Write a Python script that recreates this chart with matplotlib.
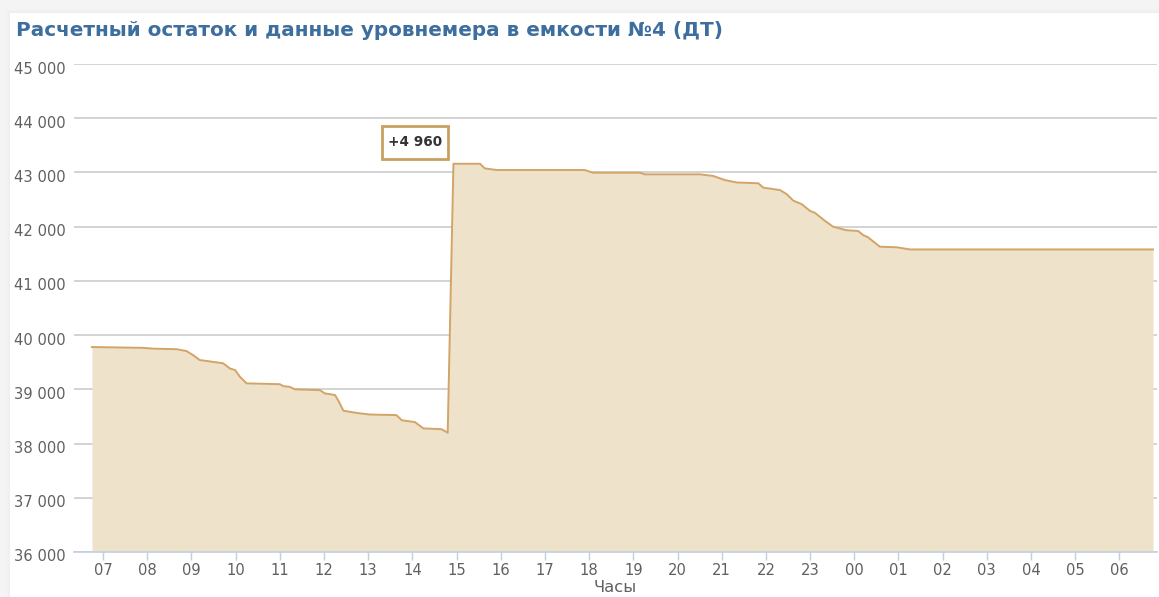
import matplotlib
matplotlib.use("Agg")
import matplotlib.pyplot as plt
from matplotlib.patches import Rectangle
from matplotlib.path import Path
from matplotlib.transforms import ScaledTranslation
from matplotlib.ticker import FuncFormatter

# Hours on the clock (values past 24 belong to the next day)
hours = [6.75, 7.91, 8.14, 8.67, 8.89, 9.04, 9.19, 9.46, 9.72, 9.87, 9.99,
         10.10, 10.25, 11.00, 11.08, 11.23, 11.34, 11.91, 12.02, 12.25, 12.32,
         12.44, 12.74, 13.04, 13.64, 13.76, 14.06, 14.25, 14.66, 14.80, 14.93,
         15.53, 15.64, 15.91, 17.90, 18.09, 19.15, 19.26, 20.51, 20.81, 21.07,
         21.34, 21.83, 21.94, 22.32, 22.47, 22.62, 22.81, 23.00, 23.11, 23.34,
         23.52, 23.82, 24.09, 24.20, 24.31, 24.58, 24.96, 25.26, 30.76]
# Tank volume, litres
volume = [39780, 39765, 39750, 39740, 39705, 39630, 39540, 39510, 39480, 39385,
          39355, 39230, 39110, 39095, 39060, 39045, 39000, 38985, 38925, 38895,
          38800, 38605, 38565, 38535, 38525, 38430, 38395, 38280, 38265, 38200,
          43160, 43160, 43075, 43045, 43045, 42995, 42995, 42965, 42965, 42935,
          42860, 42815, 42800, 42720, 42675, 42600, 42480, 42415, 42290, 42255,
          42105, 42000, 41935, 41920, 41845, 41805, 41630, 41620, 41580, 41580]

hour_ticks = list(range(7, 31))
hour_labels = [f"{h % 24:02d}" for h in hour_ticks]
y_ticks = list(range(36000, 45001, 1000))

# Delivery jump
jump_before = 38200
jump_after = 43160
jump_label = f"+{jump_after - jump_before:,}".replace(",", " ")

title = "Расчетный остаток и данные уровнемера в емкости №4 (ДТ)"
x_title = "Часы"

W, H = 1159, 597
fig = plt.figure(figsize=(W / 100, H / 100), dpi=100, facecolor="#f4f4f4")

# card background with a faint shadow
for i, a in enumerate([0.02, 0.03, 0.05, 0.08]):
    fig.patches.append(Rectangle(((10 - 4 + i) / W, 0), 1, 1 - (13 - 4 + i) / H,
                                 transform=fig.transFigure, facecolor="#d8d8d8",
                                 alpha=a, edgecolor="none", zorder=-10))
fig.patches.append(Rectangle((10 / W, 0), 1, 1 - 13 / H, transform=fig.transFigure,
                             facecolor="white", edgecolor="none", zorder=-9))

left, right, top, bottom = 74, 1157, 64, 552
ax = fig.add_axes([left / W, 1 - bottom / H, (right - left) / W, (bottom - top) / H])
ax.set_facecolor("none")
ax.set_zorder(1)

ax.fill_between(hours, volume, 36000, color="#efe2cb", zorder=2, linewidth=0)
ax.plot(hours, volume, color="#d2a468", linewidth=1.4, zorder=3,
        solid_joinstyle="round")

ax.set_xlim(6.344, 30.85)
ax.set_ylim(36000, 45000)

ax.set_yticks(y_ticks)
ax.yaxis.set_major_formatter(FuncFormatter(lambda v, p: f"{int(v):,}".replace(",", " ")))
ax.set_xticks(hour_ticks)
ax.set_xticklabels(hour_labels)

ax.grid(axis="y", color="#c8c8c8", linewidth=1.1, zorder=1)
ax.set_axisbelow(True)
for s in ["top", "right", "left"]:
    ax.spines[s].set_visible(False)
ax.spines["bottom"].set_color("#c0d0e0")
ax.spines["bottom"].set_linewidth(1.2)
ax.spines["bottom"].set_zorder(4)

ax.tick_params(axis="y", length=0, pad=6, labelsize=10.6, labelcolor="#606060")
ax.tick_params(axis="x", length=6, width=1, color="#c0d0e0", pad=2,
               labelsize=10.6, labelcolor="#606060")
shift_down = ScaledTranslation(0, -5 / 100, fig.dpi_scale_trans)
for lbl in ax.get_yticklabels():
    lbl.set_verticalalignment("center")
    lbl.set_transform(lbl.get_transform() + shift_down)

ax.set_xlabel(x_title, fontsize=11.8, color="#606060", labelpad=1.5)

fig.text(16 / W, 1 - 30 / H, title, fontsize=14.4, fontweight="bold",
         color="#3d6e9e", ha="left", va="center")


def label_box(x0, y0, width, height, mutation_size):
    """Rectangle with more vertical than horizontal padding."""
    px, py = 0.44 * mutation_size, 0.7 * mutation_size
    x0, y0 = x0 - px, y0 - py
    x1, y1 = x0 + width + 2 * px, y0 + height + 2 * py
    return Path([(x0, y0), (x1, y0), (x1, y1), (x0, y1), (x0, y0)], closed=True)


# annotation box for the delivery
ax.annotate(jump_label, xy=(14.07, 43557), xycoords="data", ha="center", va="center",
            fontsize=9.8, fontweight="bold", color="#333333", zorder=6,
            bbox=dict(boxstyle=label_box, facecolor="white",
                      edgecolor="#c9a062", linewidth=2.0))

fig.savefig("out.png", dpi=100, facecolor=fig.get_facecolor())
